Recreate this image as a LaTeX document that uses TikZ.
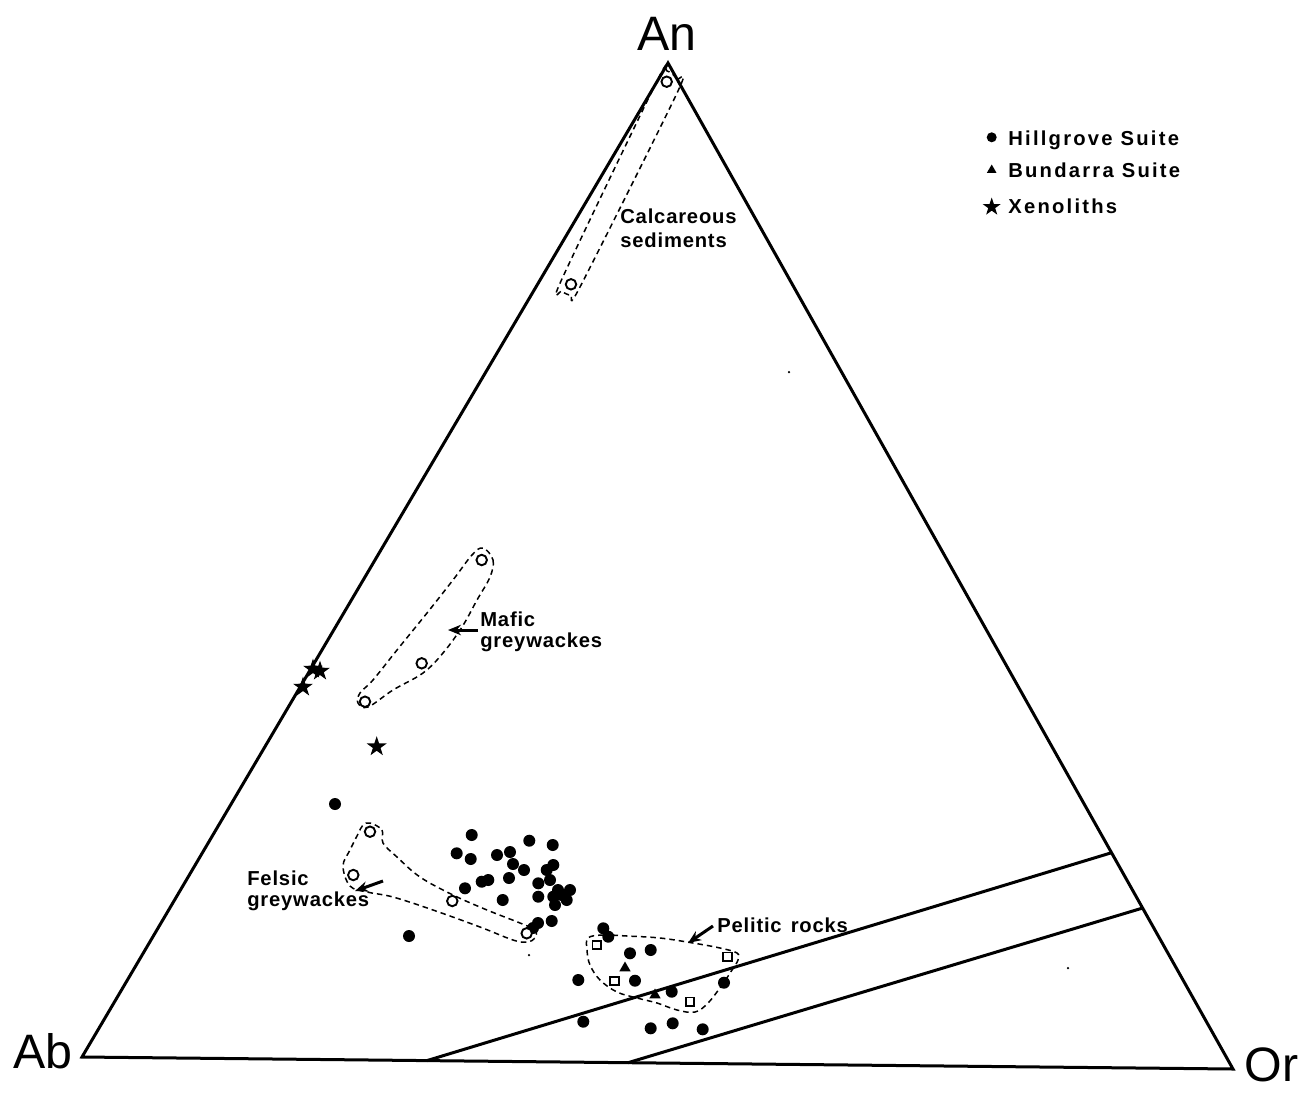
\documentclass[tikz,border=0pt]{standalone}
\usepackage{fontspec}
\setmainfont{Liberation Sans}
\newfontfamily\lblfont[LetterSpace=4]{Liberation Sans}
\newfontfamily\legfont[LetterSpace=11]{Liberation Sans}
\usetikzlibrary{shapes.geometric,arrows.meta,calc}
\tikzset{
  edge/.style={line width=0.6mm, line join=miter},
  envl/.style={line width=0.3mm, dash pattern=on 1.1mm off 0.8mm},
  hill/.style={circle, fill=black, inner sep=0pt, minimum size=2.4mm},
  opc/.style={circle, draw=black, fill=white, line width=0.38mm, inner sep=0pt, minimum size=2.1mm},
  sq/.style={rectangle, draw=black, fill=white, line width=0.38mm, inner sep=0pt, minimum size=1.7mm},
  bun/.style={regular polygon, regular polygon sides=3, fill=black, inner sep=0pt, minimum size=2.6mm},
  xen/.style={star, star points=5, star point ratio=2.6, fill=black, inner sep=0pt, minimum size=4.2mm},
  speck/.style={circle, fill=black, inner sep=0pt, minimum size=0.5mm},
  lbl/.style={font=\lblfont\bfseries\fontsize{11.5}{11.5}\selectfont, align=left, anchor=base west, inner sep=0pt},
  leg/.style={font=\legfont\bfseries\fontsize{11.5}{12}\selectfont, anchor=base west, inner sep=0pt},
  corner/.style={font=\fontsize{27.5}{30}\selectfont, inner sep=0pt},
  ptr/.style={line width=0.6mm, -{Stealth[length=2.6mm,width=2.1mm]}}
}
\begin{document}
\begin{tikzpicture}[x=0.2mm,y=-0.2mm]
\useasboundingbox (0,0) rectangle (1306,1092);
\fill[white] (0,0) rectangle (1306,1092);

% triangle
\coordinate (Ab) at (82,1057);
\coordinate (An) at (668,63);
\coordinate (Or) at (1233,1069);
\draw[edge] (Ab) -- (An) -- (Or) -- cycle;

% parallel lines
\coordinate (p1) at ($(Ab)!0.2997!(Or)$);
\coordinate (p2) at ($(An)!0.785!(Or)$);
\coordinate (q1) at ($(Ab)!0.4744!(Or)$);
\coordinate (q2) at ($(An)!0.840!(Or)$);
\draw[edge] (p1) -- (p2);
\draw[edge] (q1) -- (q2);

% corner labels
\node[corner, anchor=base] (lAn) at (667,50) {An};
\node[corner, anchor=base west] (lAb) at (13,1068) {Ab};
\node[corner, anchor=base east] (lOr) at (1299,1081) {Or};

% dashed envelopes
\draw[envl] plot[smooth cycle, tension=0.45] coordinates {(667,71) (677,79) (678,91) (580,287) (571,295) (562,291) (561,281) (658,79)};
\draw[envl] plot[smooth cycle, tension=0.6] coordinates {(483,548) (493,560) (490,577) (477,600) (462,627) (443,653) (423,673) (393,690) (368,707) (358,703) (360,693) (373,680) (397,650) (427,613) (453,580) (472,555)};
\draw[envl] plot[smooth cycle, tension=0.6] coordinates {(370,823) (382,830) (383,843) (397,857) (420,877) (453,895) (487,910) (520,923) (535,930) (535,938) (527,942) (513,940) (480,927) (433,910) (393,897) (367,892) (350,886) (343,866) (350,850) (358,834) (363,825)};
\draw[envl] plot[smooth cycle, tension=0.6] coordinates {(588,938) (603,935) (627,936) (660,938) (693,943) (720,948) (737,953) (738,960) (732,970) (722,985) (708,1003) (695,1012) (677,1010) (657,1003) (637,998) (617,992) (600,980) (590,965) (587,950)};

% Hillgrove suite (filled dots)
\foreach \x/\y [count=\i] in {
  471.7/835, 456.7/853.3, 470.7/859, 529.3/840.7, 552.7/845,
  497/855, 510/852, 513/864, 524/870, 509/878,
  481.7/881.7, 488.3/880, 465/888.3, 502.7/900,
  553.3/865, 546.7/870, 550/880, 538.3/883.3, 570/890, 538.3/896.7,
  553.3/896.7, 566.7/900, 555/905, 561.7/895, 558/890,
  551.7/921, 538/923, 533/928,
  335/804, 409/936,
  603.3/928.3, 608.3/936.7, 630/953.3, 650.7/950, 578.3/980, 635/980.7,
  671.7/991.7, 724/982.7, 583.3/1021.7, 650.7/1028.3, 672.7/1023.3, 702.7/1029.3}
  \node[hill] (h\i) at (\x,\y) {};

% open circles (sediments)
\foreach \x/\y [count=\i] in {
  666.7/81.7, 571/284.3,
  481.7/560, 421.7/663.3, 365/701.7,
  370/831.7, 353.3/875, 452.3/901, 526.7/933.3}
  \node[opc] (c\i) at (\x,\y) {};

% squares (pelitic rocks)
\foreach \x/\y [count=\i] in {596.7/945, 727.3/956.7, 614.3/981, 690/1001.7}
  \node[sq] (s\i) at (\x,\y) {};

% Bundarra suite
\node[bun] (b1) at (625,968) {};
\node[bun] (b2) at (655,995) {};

% xenoliths
\node[xen] (x1) at (313,669) {};
\node[xen] (x2) at (320,671) {};
\node[xen] (x3) at (303,687) {};
\node[xen] (x4) at (376.7,746.7) {};

% specks
\node[speck] (k1) at (789,372) {};
\node[speck] (k2) at (1068,968) {};
\node[speck] (k3) at (529,955) {};

% labels
\node[lbl, font=\lblfont\bfseries\fontsize{11.5}{13.5}\selectfont] (tCalc) at (620,247) {Calcareous\\sediments};
\node[lbl] (tMaf) at (480,647) {Mafic\\greywackes};
\node[lbl] (tFel) at (247,906) {Felsic\\greywackes};
\node[lbl] (tPel) at (717,932) {Pelitic\hspace{0.45em}rocks};

% pointers
\coordinate (aM0) at (478,630); \coordinate (aM1) at (448,630);
\coordinate (aF0) at (383,881); \coordinate (aF1) at (355,891);
\coordinate (aP0) at (713,926); \coordinate (aP1) at (688,943);
\draw[ptr] (aM0) -- (aM1);
\draw[ptr] (aF0) -- (aF1);
\draw[ptr] (aP0) -- (aP1);

% legend
\node[hill, minimum size=2mm] (gH) at (991.7,137.3) {};
\node[leg] (gHt) at (1008,145) {Hillgrove\hspace{0.4em}Suite};
\node[bun, minimum size=2.2mm] (gB) at (991.7,170) {};
\node[leg] (gBt) at (1008,177) {Bundarra\hspace{0.4em}Suite};
\node[xen, minimum size=3.8mm] (gX) at (991.7,207) {};
\node[leg] (gXt) at (1008,213) {Xenoliths};
\end{tikzpicture}
\end{document}
